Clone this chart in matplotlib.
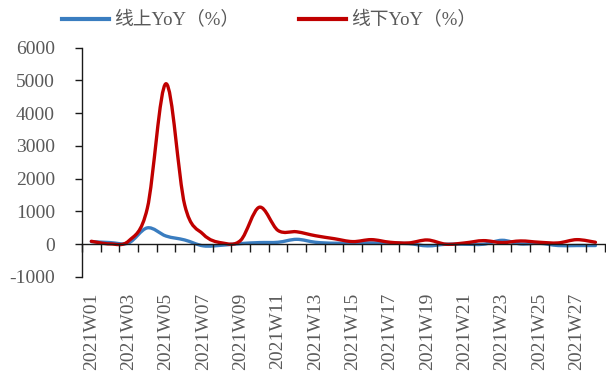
import numpy as np
import matplotlib.pyplot as plt
from matplotlib.path import Path
from matplotlib.patches import PathPatch
from matplotlib.lines import Line2D
from matplotlib.transforms import blended_transform_factory

plt.rcParams['font.family'] = ['Liberation Serif', 'Noto Sans CJK SC']

# data
weeks = [f"2021W{i:02d}" for i in range(1, 29)]
online = [80, 50, 40, 500, 250, 130, -50, -30, 20, 50, 60, 150, 60, 30,
          40, 40, 30, 20, -50, 0, 0, 0, 120, 10, 30, -40, -40, -40]
offline = [90, 10, 100, 1100, 4900, 1200, 300, 40, 120, 1130, 420, 380, 260, 170,
           80, 140, 60, 40, 130, 0, 40, 110, 50, 100, 60, 40, 140, 60]
series_names = ["线上YoY（%）", "线下YoY（%）"]
colors = ["#3A7DC0", "#C00000"]
yticks = [-1000, 0, 1000, 2000, 3000, 4000, 5000, 6000]


def smooth_path(values):
    # Excel-like smoothed line: cubic bezier through every point
    pts = np.column_stack([np.arange(len(values)), values]).astype(float)
    n = len(pts)
    verts = [pts[0]]
    codes = [Path.MOVETO]
    for i in range(n - 1):
        p0 = pts[max(i - 1, 0)]
        p1 = pts[i]
        p2 = pts[i + 1]
        p3 = pts[min(i + 2, n - 1)]
        verts += [p1 + (p2 - p0) / 6, p2 - (p3 - p1) / 6, p2]
        codes += [Path.CURVE4] * 3
    return Path(verts, codes)


fig = plt.figure(figsize=(6.06, 3.74), dpi=100)
ax = fig.add_axes([0.1353, 0.2594, 0.8627, 0.6131])

for vals, col in zip([online, offline], colors):
    ax.add_patch(PathPatch(smooth_path(vals), facecolor="none", edgecolor=col,
                           lw=2.4, capstyle="round", joinstyle="round"))

ax.set_xlim(-0.5, len(weeks) - 0.5)
ax.set_ylim(-1000, 6000)

# axes styling
ax.spines.right.set_visible(False)
ax.spines.top.set_visible(False)
ax.spines.bottom.set_position(("data", 0))
for s in ["left", "bottom"]:
    ax.spines[s].set_color("#1a1a1a")
    ax.spines[s].set_linewidth(1.0)

ax.set_yticks(yticks)
ax.set_yticklabels([str(v) for v in yticks])
ax.tick_params(axis="y", direction="out", length=5, width=1, color="#1a1a1a",
               labelsize=14, labelcolor="#595959", pad=14.4)

ax.set_xticks(np.arange(len(weeks) + 1) - 0.5)
ax.set_xticklabels([])
ax.tick_params(axis="x", direction="out", length=6, width=1, color="#1a1a1a")

trans = blended_transform_factory(ax.transData, ax.transAxes)
for i, w in enumerate(weeks):
    if i % 2 == 0:
        ax.text(i, -0.068, w, transform=trans, rotation=90, ha="center", va="top",
                fontsize=14, color="#595959")

handles = [Line2D([], [], color=c, lw=3) for c in colors]
fig.legend(handles, series_names, loc="center", bbox_to_anchor=(0.444, 0.946),
           ncol=2, frameon=False, fontsize=13.5, handlelength=2.5,
           columnspacing=3.2, handletextpad=0.25, labelcolor="#595959")

fig.savefig("out.png")
